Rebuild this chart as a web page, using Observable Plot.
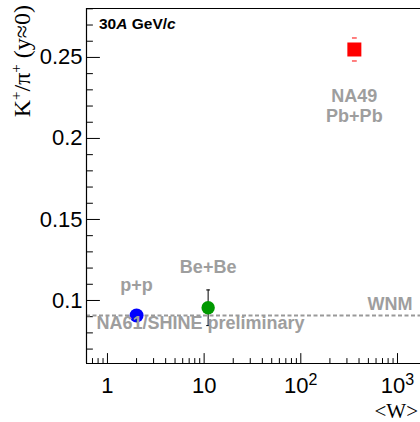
<!DOCTYPE html>
<html><head><meta charset="utf-8">
<script src="https://cdn.jsdelivr.net/npm/d3@7"></script>
<script src="https://cdn.jsdelivr.net/npm/@observablehq/plot@0.6"></script>
<style>body{margin:0;background:#fff} svg{display:block;overflow:hidden}</style>
</head><body><div id="chart"></div>
<script>
// ---- data ----
const systems = ["p+p", "Be+Be", "Pb+Pb"];
const experiments = ["NA61/SHINE", "NA61/SHINE", "NA49"];
const meanW = [2.0, 11, 358];
const ratio = [0.0907, 0.0955, 0.2549];
const ratioErr = [0, 0.011, 0.0071];
const wnmValue = 0.0907;
const xMajorTicks = [1, 10, 100, 1000];
const xTickLabels = ["1", "10", "10²", "10³"];
const xMinorTicks = [0.7, 0.8, 0.9, 2, 3, 4, 5, 6, 7, 8, 9, 20, 30, 40, 50, 60, 70, 80, 90, 200, 300, 400, 500, 600, 700, 800, 900];
const yMajorTicks = [0.1, 0.15, 0.2, 0.25];
const yTickLabels = ["0.1", "0.15", "0.2", "0.25"];
const yMinorTicks = [0.07, 0.08, 0.09, 0.11, 0.12, 0.13, 0.14, 0.16, 0.17, 0.18, 0.19, 0.21, 0.22, 0.23, 0.24, 0.26, 0.27, 0.28];
const xDomain = [0.607, 1730];
const yDomain = [0.0611, 0.2802];

const rows = systems.map((s, i) => ({system: s, exp: experiments[i], w: meanW[i], r: ratio[i], e: ratioErr[i]}));
const pp = rows.filter(d => d.system === "p+p");
const bebe = rows.filter(d => d.system === "Be+Be");
const pbpb = rows.filter(d => d.system === "Pb+Pb");

const SANS = "Liberation Sans";
const gray = "#9e9e9e";
const lineShape = {draw(context, l) { context.moveTo(0, 0); context.lineTo(0, -l); }};
const lbl = {fontSize: 18, fontWeight: "bold", fill: gray, fontFamily: SANS};

const plot = Plot.plot({
  width: 420, height: 422,
  marginLeft: 86, marginRight: 0, marginTop: 8, marginBottom: 59,
  style: {fontFamily: SANS, background: "#fff"},
  x: {type: "log", domain: xDomain, label: null, axis: null},
  y: {type: "linear", domain: yDomain, label: null, axis: null},
  marks: [
    // tick labels
    Plot.axisY(yMajorTicks, {tickSize: 0, tickPadding: 4, fontSize: 22, fontFamily: SANS, fill: "#000", tickFormat: d => yTickLabels[yMajorTicks.indexOf(d)], label: null}),
    Plot.axisX(xMajorTicks, {tickSize: 0, tickPadding: 14, fontSize: 22, fontFamily: SANS, fill: "#000", tickFormat: d => xTickLabels[xMajorTicks.indexOf(d)], label: null}),
    // inward ticks
    Plot.vector(yMajorTicks, {y: d => d, frameAnchor: "left", rotate: 90, length: 13, anchor: "start", shape: lineShape, stroke: "#000", strokeWidth: 1}),
    Plot.vector(yMinorTicks, {y: d => d, frameAnchor: "left", rotate: 90, length: 6, anchor: "start", shape: lineShape, stroke: "#000", strokeWidth: 1}),
    Plot.vector(xMajorTicks, {x: d => d, frameAnchor: "bottom", length: 10, anchor: "start", shape: lineShape, stroke: "#000", strokeWidth: 1}),
    Plot.vector(xMinorTicks, {x: d => d, frameAnchor: "bottom", length: 5, anchor: "start", shape: lineShape, stroke: "#000", strokeWidth: 1}),
    // WNM dashed line
    Plot.ruleY([wnmValue], {stroke: "#999999", strokeWidth: 2, strokeDasharray: "4,2.5"}),
    // frame (left, bottom, top)
    Plot.ruleX([xDomain[0]], {stroke: "#000", strokeWidth: 1.2}),
    Plot.ruleY([yDomain[0]], {stroke: "#000", strokeWidth: 1.2}),
    Plot.ruleY([yDomain[1]], {stroke: "#000", strokeWidth: 1.2}),
    // Be+Be error bar
    Plot.ruleX(bebe, {x: "w", y1: d => d.r - d.e, y2: d => d.r + d.e, stroke: "#000", strokeWidth: 1}),
    Plot.vector(bebe, {x: "w", y: d => d.r + d.e, rotate: 90, length: 3, anchor: "middle", shape: lineShape, stroke: "#000", strokeWidth: 1}),
    Plot.vector(bebe, {x: "w", y: d => d.r - d.e, rotate: 90, length: 3, anchor: "middle", shape: lineShape, stroke: "#000", strokeWidth: 1}),
    // NA49 caps
    Plot.vector(pbpb, {x: "w", y: d => d.r + d.e, rotate: 90, length: 4, anchor: "middle", shape: lineShape, stroke: "#ff0000", strokeWidth: 1}),
    Plot.vector(pbpb, {x: "w", y: d => d.r - d.e, rotate: 90, length: 4, anchor: "middle", shape: lineShape, stroke: "#ff0000", strokeWidth: 1}),
    // points
    Plot.dot(pp, {x: "w", y: "r", r: 7, fill: "#0000ff", stroke: null}),
    Plot.dot(bebe, {x: "w", y: "r", r: 6.7, fill: "#009900", stroke: null}),
    Plot.dot(pbpb, {x: "w", y: "r", r: 7.9, symbol: "square", fill: "#ff0000", stroke: null}),
    // point labels
    Plot.text(pp, {x: "w", y: "r", text: "system", dy: -30, ...lbl}),
    Plot.text(bebe, {x: "w", y: "r", text: "system", dy: -41, ...lbl}),
    Plot.text(pbpb, {x: "w", y: "r", text: "exp", dy: 47, ...lbl}),
    Plot.text(pbpb, {x: "w", y: "r", text: "system", dy: 67, ...lbl}),
    Plot.text(["NA61/SHINE preliminary"], {frameAnchor: "bottom-left", dx: 10, dy: -34.8, textAnchor: "start", ...lbl}),
    Plot.text(["WNM"], {y: [wnmValue], frameAnchor: "right", dx: -8, dy: -11, textAnchor: "end", ...lbl})
  ]
});

const svg = d3.select(plot);
// superscript exponents on x tick labels
svg.selectAll("text").each(function() {
  const s = this.textContent;
  const m = s.match(/^10([²³])$/);
  if (m) {
    const el = d3.select(this);
    const exp = m[1] === "²" ? "2" : "3";
    el.text(null);
    el.append("tspan").text("10");
    el.append("tspan").attr("font-size", 16).attr("dy", "-0.5em").text(exp);
  }
});

// energy label
const t = svg.append("text").attr("x", 99).attr("y", 29).attr("text-anchor", "start")
  .attr("font-family", SANS).attr("font-size", 15.5).attr("font-weight", "bold").attr("fill", "#000");
t.append("tspan").text("30");
t.append("tspan").attr("font-style", "italic").text("A");
t.append("tspan").text(" GeV/");
t.append("tspan").attr("font-style", "italic").text("c");

// y-axis title
const yl = svg.append("text").attr("transform", "translate(30,5) rotate(-90)")
  .attr("text-anchor", "end").attr("font-family", "'Liberation Serif', 'Times New Roman', serif")
  .attr("font-size", 24).attr("fill", "#000");
yl.append("tspan").text("K");
yl.append("tspan").attr("font-size", 15).attr("dy", -9).text("+");
yl.append("tspan").attr("dy", 9).text("/π");
yl.append("tspan").attr("font-size", 15).attr("dy", -9).text("+");
yl.append("tspan").attr("dy", 9).text(" (y≈0)");

// x-axis title
svg.append("text").attr("x", 418).attr("y", 417.5).attr("text-anchor", "end")
  .attr("font-family", "'Liberation Serif', 'Times New Roman', serif").attr("font-size", 21).attr("fill", "#000")
  .text("<W>");

document.getElementById("chart").appendChild(plot);
</script>
</body></html>
